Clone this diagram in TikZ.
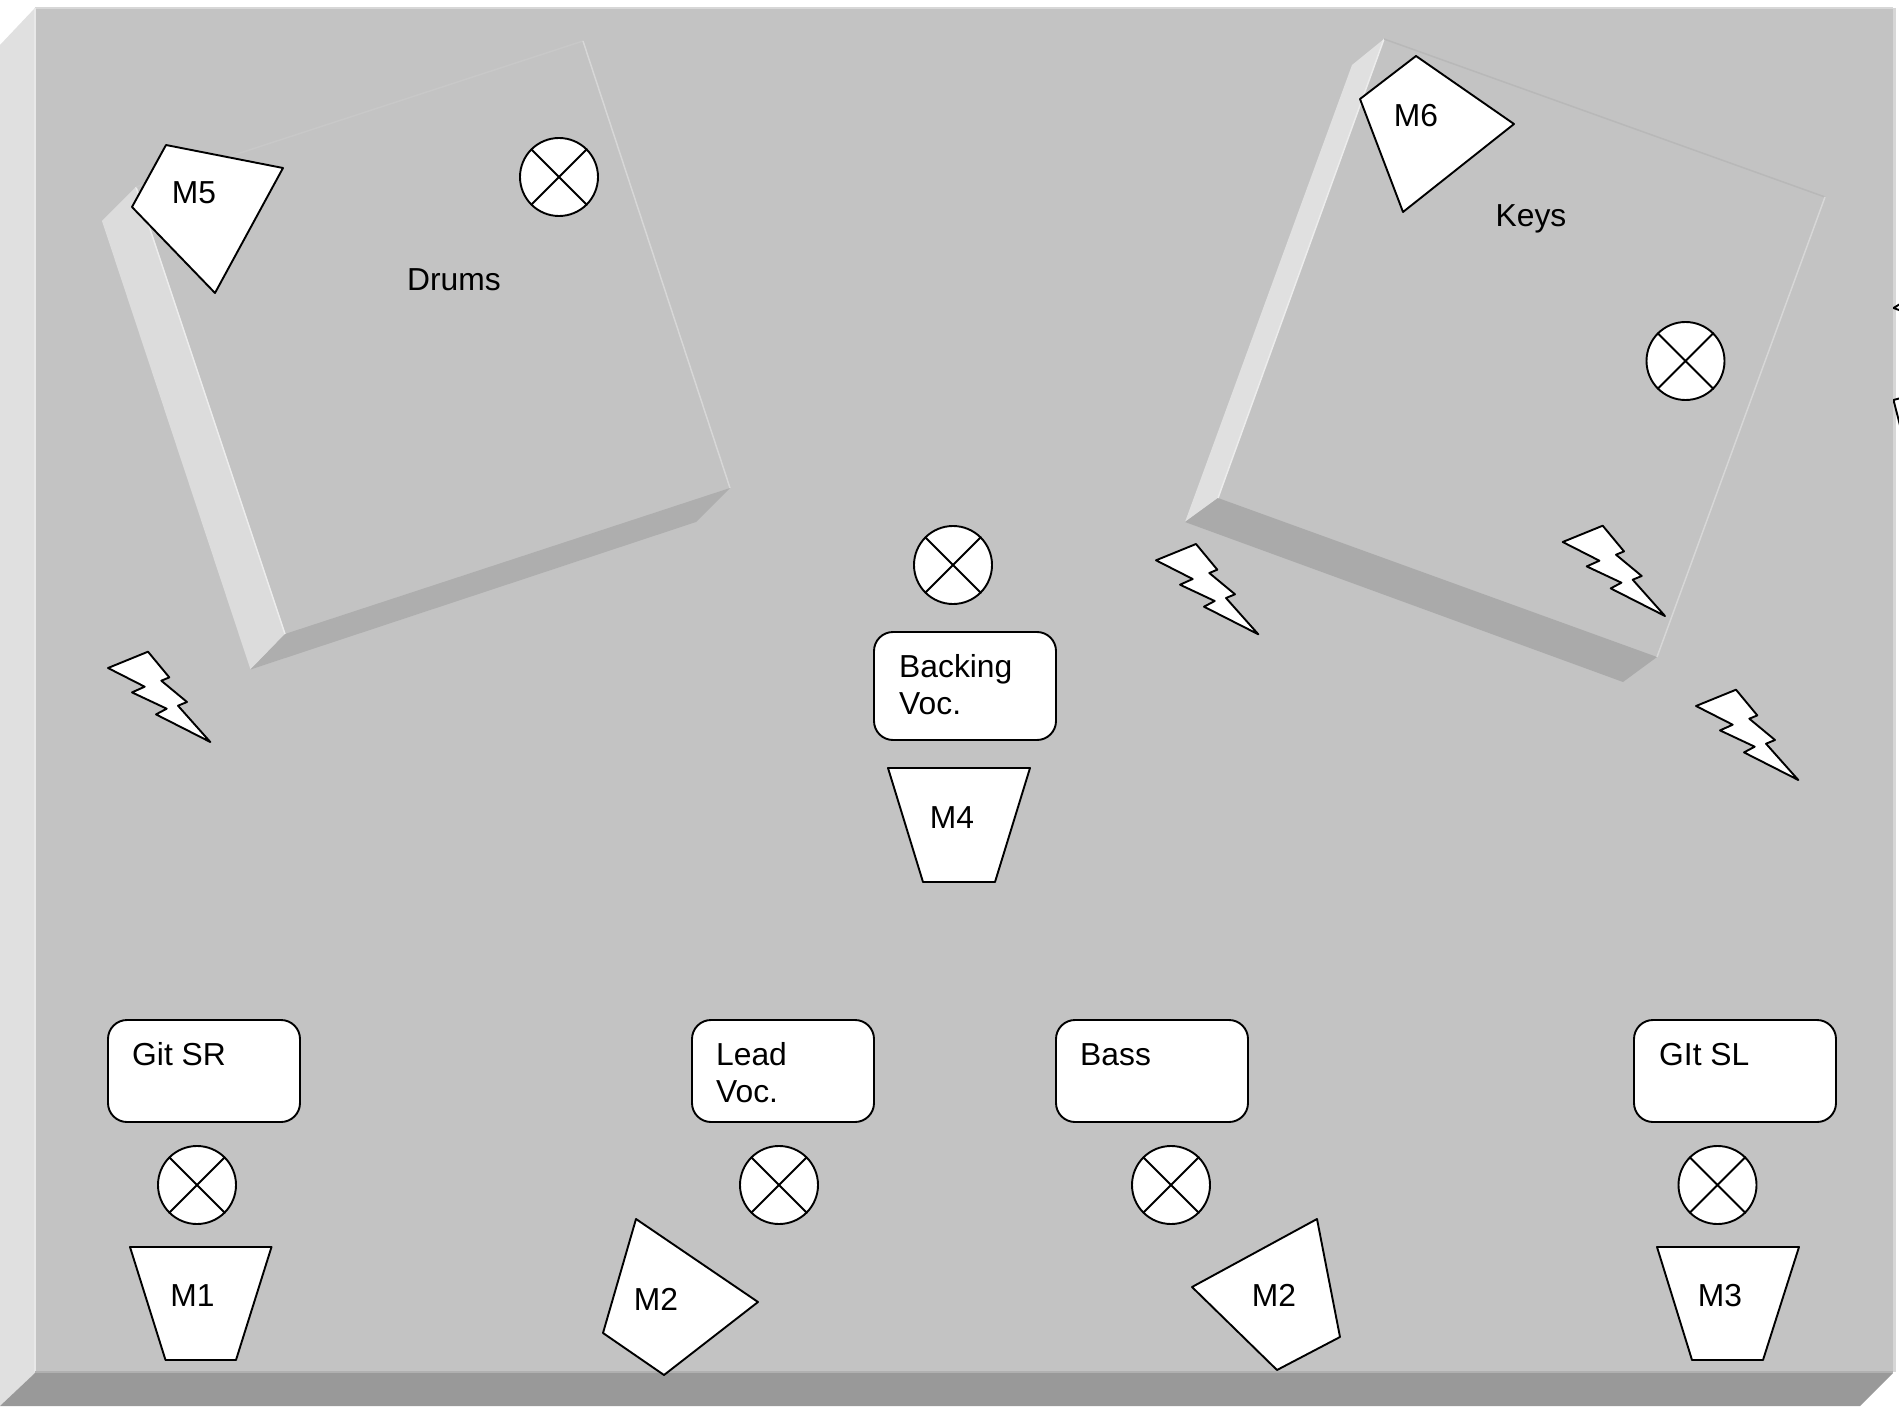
\documentclass[tikz,border=0pt]{standalone}
\usepackage{fontspec}
\setmainfont{Liberation Sans}
\definecolor{stagetop}{HTML}{C3C3C3}
\definecolor{stageleft}{HTML}{E0E0E0}
\definecolor{stagefront}{HTML}{999999}
\definecolor{edgetop}{HTML}{D7D7D7}
\definecolor{edgeleft}{HTML}{E8E8E8}
\definecolor{edgefront}{HTML}{B0B0B0}
\definecolor{drumleft}{HTML}{DCDCDC}
\definecolor{drumfront}{HTML}{AEAEAE}
\definecolor{drumtop}{HTML}{C8C8C8}
\definecolor{keysleft}{HTML}{E0E0E0}
\definecolor{keysfront}{HTML}{AAAAAA}
\definecolor{keystop}{HTML}{B8B8B8}
\definecolor{riserlight}{HTML}{D7D7D7}
\definecolor{riserhigh}{HTML}{ECECEC}
\tikzset{
  x=1pt,y=-1pt,
  device/.style={draw=black,fill=white,line width=1.9pt,line join=round},
  txt/.style={inner sep=0pt,font=\fontsize{31.8}{37}\selectfont},
  lbl/.style={txt,anchor=base},
  boxlbl/.style={txt,anchor=base west,align=left},
  spk/.style={device,circle,minimum size=78pt,inner sep=0pt},
  plate/.style={draw=none,fill=#1},
  panel/.style={device,rounded corners=19pt},
  edge2/.style={line width=2pt,color=#1},
  edge1/.style={line width=1.5pt,color=#1},
}
\newcommand{\bolt}[2]{\draw[device,shift={(#1,#2)}] (0,0)--(40,-16.3)--(61.3,9.4)--(53.3,12.7)--(79,34)--(70,37.7)--(102.3,74)--(48,46.4)--(58.7,40.7)--(24,24.4)--(36.7,18.7)--cycle;}
\newcommand{\speaker}[3]{\node[spk] (#1) at (#2,#3) {};
  \draw[line width=1.9pt] (#1.45)--(#1.225) (#1.135)--(#1.315);}
\begin{document}
\begin{tikzpicture}
\useasboundingbox (0,0) rectangle (1899,1415);
\fill[white] (0,0) rectangle (1899,1415);
% stage
\fill[plate=stagetop] (35,8) rectangle (1893,1373);
\fill[plate=stageleft] (35,8)--(35,1373)--(0,1406)--(0,45)--cycle;
\fill[plate=stagefront] (35,1373)--(1893,1373)--(1860,1406)--(0,1406)--cycle;
\draw[edge2=edgetop] (35,8)--(1893,8);
\draw[edge2=edgeleft] (35,8)--(35,1372);
\draw[line width=3pt,color=edgetop] (1894.5,8)--(1894.5,1372);
\draw[edge2=edgefront] (35,1372)--(1893,1372);
% drums riser
\fill[plate=drumleft] (136,187)--(285,634)--(250.5,669.5)--(102,221)--cycle;
\fill[plate=drumfront] (285,634)--(730,488)--(696,522)--(250.5,669.5)--cycle;
\draw[edge1=riserhigh] (136,187)--(285,634);
\draw[edge1=drumtop] (136,187)--(583,41);
\draw[edge1=riserlight] (583,41)--(730,488);
% keys riser
\fill[plate=keysleft] (1384,39)--(1218,498)--(1185,522)--(1352,65)--cycle;
\fill[plate=keysfront] (1218,498)--(1657,657)--(1623,682)--(1185,522)--cycle;
\draw[edge1=riserhigh] (1384,39)--(1218,498);
\draw[edge1=keystop] (1384,39)--(1825,197);
\draw[edge1=riserlight] (1825,197)--(1657,657);
% off-stage fragments at the right edge
\begin{scope}
\clip (1893,0) rectangle (1899,1415);
\draw[device] (1893.5,308)--(1910,298)--(1930,320)--(1910,314)--cycle;
\draw[device] (1893.5,400)--(1930,390)--(1920,430)--(1905,445)--cycle;
\end{scope}
% bolts
\bolt{108}{668}
\bolt{1156}{560.3}
\bolt{1562.7}{542}
\bolt{1696}{706}
% speakers
\speaker{s1}{559}{177}
\speaker{s2}{1685.5}{361}
\speaker{s3}{953}{565}
\speaker{s4}{197}{1185}
\speaker{s5}{779}{1185}
\speaker{s6}{1171}{1185}
\speaker{s7}{1717.5}{1185}
% panels
\draw[panel] (108,1020) rectangle (300,1122);
\draw[panel] (692,1020) rectangle (874,1122);
\draw[panel] (1056,1020) rectangle (1248,1122);
\draw[panel] (1634,1020) rectangle (1836,1122);
\draw[panel] (874,632) rectangle (1056,740);
% mics
\draw[device] (166,145)--(283,168)--(215,293)--(132,207)--cycle;
\draw[device] (1416,56)--(1514,124)--(1403,212)--(1360,99)--cycle;
\draw[device] (888,768)--(1030,768)--(995,882)--(923,882)--cycle;
\draw[device] (130,1247)--(271.5,1247)--(236,1360)--(165.5,1360)--cycle;
\draw[device] (636,1219)--(758,1302)--(664,1375)--(603,1333)--cycle;
\draw[device] (1317,1219)--(1340,1337)--(1277,1370)--(1192,1287)--cycle;
\draw[device] (1657,1247)--(1799,1247)--(1763,1360)--(1692,1360)--cycle;
% labels
\node[lbl] (lm5) at (194,204) {M5};
\node[lbl] (ldr) at (454,291) {Drums};
\node[lbl] (lm6) at (1416,127) {M6};
\node[lbl] (lke) at (1531,227) {Keys};
\node[lbl] (lm4) at (952,828) {M4};
\node[lbl] (lm1) at (192.5,1306) {M1};
\node[lbl] (lm2a) at (656,1310) {M2};
\node[lbl] (lm2b) at (1274,1306) {M2};
\node[lbl] (lm3) at (1720,1306) {M3};
\node[boxlbl] (lgr) at (132,1065) {Git SR};
\node[boxlbl] (lle) at (716,1102) {Lead\\Voc.};
\node[boxlbl] (lba) at (1080,1065) {Bass};
\node[boxlbl] (lgl) at (1659,1065) {GIt SL};
\node[boxlbl] (lbv) at (899,714) {Backing\\Voc.};
\end{tikzpicture}
\end{document}
